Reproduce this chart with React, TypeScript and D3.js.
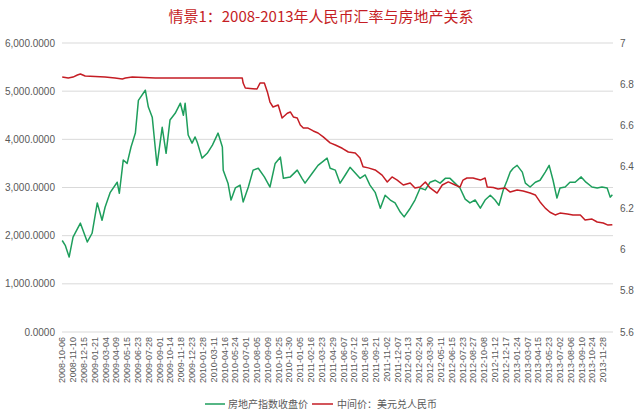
import React from "react";
import * as d3 from "d3";

const TITLE = "情景1：2008-2013年人民币汇率与房地产关系";
const SERIES_NAMES = ["房地产指数收盘价", "中间价：美元兑人民币"];

const xLabels = [
  "2008-10-06","2008-11-10","2008-12-15","2009-01-21","2009-03-04","2009-04-09","2009-05-15","2009-06-23",
  "2009-07-28","2009-09-01","2009-10-14","2009-11-18","2009-12-23","2010-01-28","2010-03-11","2010-04-16",
  "2010-05-24","2010-07-01","2010-08-05","2010-09-09","2010-10-25","2010-11-30","2011-01-05","2011-02-16",
  "2011-03-23","2011-04-29","2011-06-07","2011-07-12","2011-08-16","2011-09-21","2011-11-02","2011-12-07",
  "2012-01-13","2012-02-24","2012-03-30","2012-05-11","2012-06-15","2012-07-23","2012-08-27","2012-10-08",
  "2012-11-12","2012-12-17","2013-01-24","2013-03-07","2013-04-15","2013-05-23","2013-07-02","2013-08-06",
  "2013-09-10","2013-10-24","2013-11-28"
];
const LABEL_STEP = 25; // trading days between category labels
const N_DAYS = 1273;

const leftTicks = [0, 1000, 2000, 3000, 4000, 5000, 6000];
const rightTicks = [5.6, 5.8, 6.0, 6.2, 6.4, 6.6, 6.8, 7.0];

// 房地产指数收盘价 (trading-day index, value)
const houseDay = [
  0,7,16,25,42,58,69,81,92,99,111,127,132,141,150,159,169,176,192,199,208,215,219,231,240,249,261,273,280,284,
  291,300,307,312,323,335,347,360,370,372,383,390,400,411,418,430,441,453,467,480,492,504,511,527,543,554,561,578,
  591,612,619,631,642,654,665,677,688,700,711,723,735,746,758,769,781,790,804,815,827,839,850,862,873,885,896,912,
  919,931,942,954,966,977,989,1000,1009,1019,1028,1035,1042,1051,1063,1070,1081,1093,1104,1116,1125,1134,1143,1150,
  1162,1173,1185,1199,1210,1224,1236,1247,1259,1266,1271
];
const houseVal = [
  1900,1800,1556,1970,2260,1870,2050,2680,2320,2590,2900,3110,2880,3570,3500,3840,4130,4810,5020,4670,4460,3820,3460,4250,3710,4400,4540,4750,4500,4750,
  4090,3920,4050,3940,3610,3710,3880,4130,3840,3360,3090,2740,2990,3050,2700,3010,3360,3400,3220,3010,3500,3630,3190,3220,3360,3190,3090,3300,
  3460,3610,3400,3360,3090,3260,3420,3300,3190,3260,3050,2900,2570,2840,2740,2680,2490,2390,2570,2740,2990,2950,3110,3150,3090,3190,3190,3050,
  2990,2760,2680,2740,2570,2740,2840,2740,2630,2950,3150,3320,3400,3460,3320,3090,3010,3110,3150,3320,3460,3150,2780,2990,
  3010,3110,3110,3220,3110,3010,2990,3010,2990,2800,2850
];

// 中间价：美元兑人民币 (trading-day index, value)
const fxDay = [
  0,14,25,35,42,53,99,122,139,146,162,215,319,416,418,423,434,450,457,467,474,480,487,499,508,520,527,534,543,550,
  557,568,580,591,603,619,631,647,661,677,688,695,707,723,739,751,762,774,788,804,815,827,839,850,866,878,892,908,
  919,926,935,949,966,977,982,996,1007,1023,1035,1051,1065,1081,1093,1104,1116,1127,1139,1150,1167,1180,1197,1208,
  1224,1236,1250,1261,1271
];
const fxVal = [
  6.835,6.83,6.835,6.845,6.85,6.84,6.835,6.83,6.826,6.83,6.835,6.83,6.83,6.83,6.806,6.782,6.78,6.777,6.806,6.806,6.763,6.714,6.69,6.70,6.637,6.66,6.666,6.642,6.637,6.603,
  6.588,6.588,6.574,6.564,6.545,6.516,6.506,6.49,6.472,6.467,6.443,6.40,6.395,6.385,6.36,6.327,6.351,6.336,6.312,6.322,6.298,6.302,6.327,6.298,6.273,6.312,6.327,6.312,
  6.302,6.336,6.346,6.346,6.336,6.346,6.302,6.30,6.293,6.298,6.278,6.288,6.283,6.273,6.264,6.23,6.20,6.18,6.167,6.176,6.172,6.167,6.167,6.142,
  6.147,6.133,6.128,6.118,6.12
];

const GREEN = "#1E9E5C";
const RED = "#C51D24";
const AXIS_TEXT = "#595959";
const GRID = "#D9D9D9";
const CJK = "'Noto Sans CJK SC', 'Liberation Sans', sans-serif";
const NUM = "'Liberation Sans', Arial, sans-serif";

export default function App() {
  const W = 640, H = 418;
  const left = 62, right = 613, top = 43, bottom = 332;

  const x = d3.scaleLinear().domain([-0.5, N_DAYS - 0.5]).range([left, right]);
  const yL = d3.scaleLinear().domain([0, 6000]).range([bottom, top]);
  const yR = d3.scaleLinear().domain([5.6, 7.0]).range([bottom, top]);

  const house = houseDay.map((d, i) => [d, houseVal[i]] as [number, number]);
  const fx = fxDay.map((d, i) => [d, fxVal[i]] as [number, number]);

  const houseLine = d3.line<[number, number]>().x(d => x(d[0])).y(d => yL(d[1]))(house) || "";
  const fxLine = d3.line<[number, number]>().x(d => x(d[0])).y(d => yR(d[1]))(fx) || "";

  const fmtL = d3.format(",.4f");

  return (
    <svg width={W} height={H} style={{ position: "absolute", left: 0, top: 0, background: "#fff" }}>
      <rect x={0} y={0} width={W} height={H} fill="#fff" />
      <text x={321} y={22} textAnchor="middle" fontFamily={CJK} fontSize={15} fill={RED}>{TITLE}</text>

      {leftTicks.map(t => (
        <g key={"l" + t}>
          <line x1={left} x2={right} y1={yL(t)} y2={yL(t)} stroke={GRID} strokeWidth={1} />
          <text x={55} y={yL(t) + 3.5} textAnchor="end" fontFamily={NUM} fontSize={10} fill={AXIS_TEXT}>{fmtL(t)}</text>
        </g>
      ))}
      {rightTicks.map(t => (
        <text key={"r" + t} x={620} y={yR(t) + 3.5} textAnchor="start" fontFamily={NUM} fontSize={10} fill={AXIS_TEXT}>{d3.format("~g")(+t.toFixed(1))}</text>
      ))}

      {xLabels.map((lab, k) => {
        const px = x(k * LABEL_STEP);
        return (
          <text key={lab} transform={`translate(${px + 3},${337}) rotate(-90)`} textAnchor="end" fontFamily={NUM} fontSize={9} fill={AXIS_TEXT}>{lab}</text>
        );
      })}

      <path d={houseLine} fill="none" stroke={GREEN} strokeWidth={1.5} strokeLinejoin="round" />
      <path d={fxLine} fill="none" stroke={RED} strokeWidth={1.5} strokeLinejoin="round" />

      <g>
        <line x1={205} x2={225} y1={404} y2={404} stroke={GREEN} strokeWidth={1.5} />
        <text x={228} y={408} fontFamily={CJK} fontSize={10} fill={AXIS_TEXT}>{SERIES_NAMES[0]}</text>
        <line x1={312} x2={333} y1={404} y2={404} stroke={RED} strokeWidth={1.5} />
        <text x={337} y={408} fontFamily={CJK} fontSize={10} fill={AXIS_TEXT}>{SERIES_NAMES[1]}</text>
      </g>
    </svg>
  );
}
